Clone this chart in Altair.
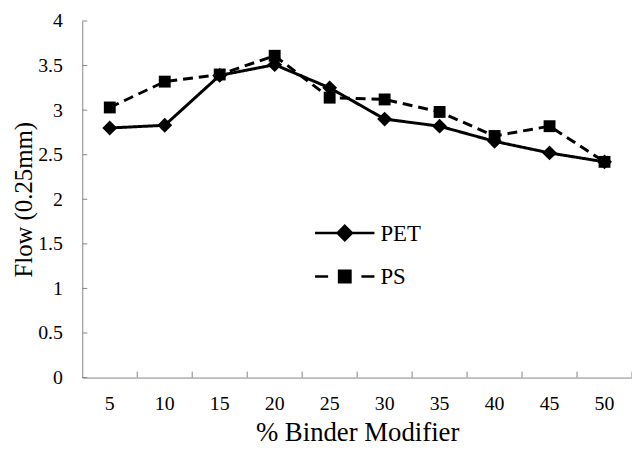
import altair as alt
import pandas as pd

binder = [5, 10, 15, 20, 25, 30, 35, 40, 45, 50]
pet = [2.80, 2.83, 3.39, 3.51, 3.25, 2.90, 2.82, 2.65, 2.52, 2.42]
ps = [3.03, 3.32, 3.40, 3.61, 3.14, 3.12, 2.98, 2.71, 2.82, 2.42]
series = ["PET", "PS"]
y_ticks = [0, 0.5, 1, 1.5, 2, 2.5, 3, 3.5, 4]

rows = []
for b, v in zip(binder, pet):
    rows.append({"binder": b, "flow": v, "series": "PET"})
for b, v in zip(binder, ps):
    rows.append({"binder": b, "flow": v, "series": "PS"})
df = pd.DataFrame(rows)

W, H = 555, 360
FONT = "Liberation Serif"
GRAY = "#868686"

x_scale = alt.Scale(type="band", paddingInner=0, paddingOuter=0)
x_enc = alt.X(
    "binder:O",
    title="% Binder Modifier",
    scale=x_scale,
    axis=alt.Axis(
        labelAngle=0, labelAlign="center", bandPosition=0.5, ticks=False,
        labelPadding=26, labelFontSize=20, labelFont=FONT, labelColor="black",
        titleFont=FONT, titleColor="black",
        titleFontSize=27, titleFontWeight="normal", titleY=64,
        titleBaseline="alphabetic",
    ),
)
y_scale = alt.Scale(domain=[0, 4], nice=False)
y_enc = alt.Y(
    "flow:Q",
    title="Flow (0.25mm)",
    scale=y_scale,
    axis=alt.Axis(
        values=y_ticks, format="~g", ticks=False, grid=False, labelPadding=20,
        labelFontSize=20, labelFont=FONT, labelColor="black",
        titleFont=FONT, titleColor="black",
        titleFontSize=25, titleFontWeight="normal",
        titleX=-51, titleBaseline="alphabetic",
    ),
)

base = alt.Chart(df)

lines = base.mark_line(color="black", strokeWidth=3).encode(
    x=x_enc,
    y=y_enc,
    strokeDash=alt.StrokeDash(
        "series:N",
        scale=alt.Scale(domain=series, range=[[1, 0], [10, 6]]),
        legend=None,
    ),
    detail="series:N",
)

pts_pet = base.transform_filter(alt.datum.series == "PET").mark_point(
    shape="diamond", filled=True, color="black", size=225, opacity=1
).encode(x=x_enc, y=y_enc)

pts_ps = base.transform_filter(alt.datum.series == "PS").mark_point(
    shape="square", filled=True, color="black", size=144, opacity=1
).encode(x=x_enc, y=y_enc)

# legend (drawn as symbol + label pairs, in the plot's pixel space)
pet_sym = "M-5,0H5M0,-1.2L1.2,0L0,1.2L-1.2,0Z"
ps_sym = "M-5,0H-2.8M2.8,0H5M-0.95,-0.95H0.95V0.95H-0.95Z"
legend_syms = [pet_sym, ps_sym]
LEG_X, LEG_Y, LEG_STEP = 265, 214, 44

legend_layers = []
for i, name in enumerate(series):
    ldf = pd.DataFrame({"label": [name]})
    yv = LEG_Y + LEG_STEP * i
    legend_layers.append(
        alt.Chart(ldf).mark_point(
            shape=legend_syms[i], size=144, filled=True, fill="black",
            stroke="black", strokeWidth=2.6, opacity=1,
        ).encode(x=alt.value(LEG_X), y=alt.value(yv))
    )
    legend_layers.append(
        alt.Chart(ldf).mark_text(
            align="left", baseline="middle", font=FONT, fontSize=23,
            color="black", dy=1,
        ).encode(x=alt.value(LEG_X + 36), y=alt.value(yv), text="label:N")
    )

ytick_df = pd.DataFrame({"flow": y_ticks})
ytick_layer = alt.Chart(ytick_df).mark_rule(color=GRAY, strokeWidth=1).encode(
    y=alt.Y("flow:Q", scale=y_scale),
    x=alt.value(0),
    x2=alt.value(5),
)

xtick_df = pd.DataFrame({"binder": binder})
xtick_layer = alt.Chart(xtick_df).mark_rule(color=GRAY, strokeWidth=1).encode(
    x=alt.X("binder:O", bandPosition=1, scale=x_scale),
    y=alt.value(H - 6),
    y2=alt.value(H),
)

chart = alt.layer(
    ytick_layer, xtick_layer, lines, pts_pet, pts_ps, *legend_layers
).properties(
    width=W, height=H,
    background="white",
    autosize=alt.AutoSizeParams(type="none"),
    padding={"left": 75, "top": 11, "right": 0, "bottom": 72},
).configure_view(stroke=None).configure_axis(
    domainColor=GRAY, domainWidth=1,
)

chart.save("out.html", embed_options={"renderer": "svg", "actions": False})
